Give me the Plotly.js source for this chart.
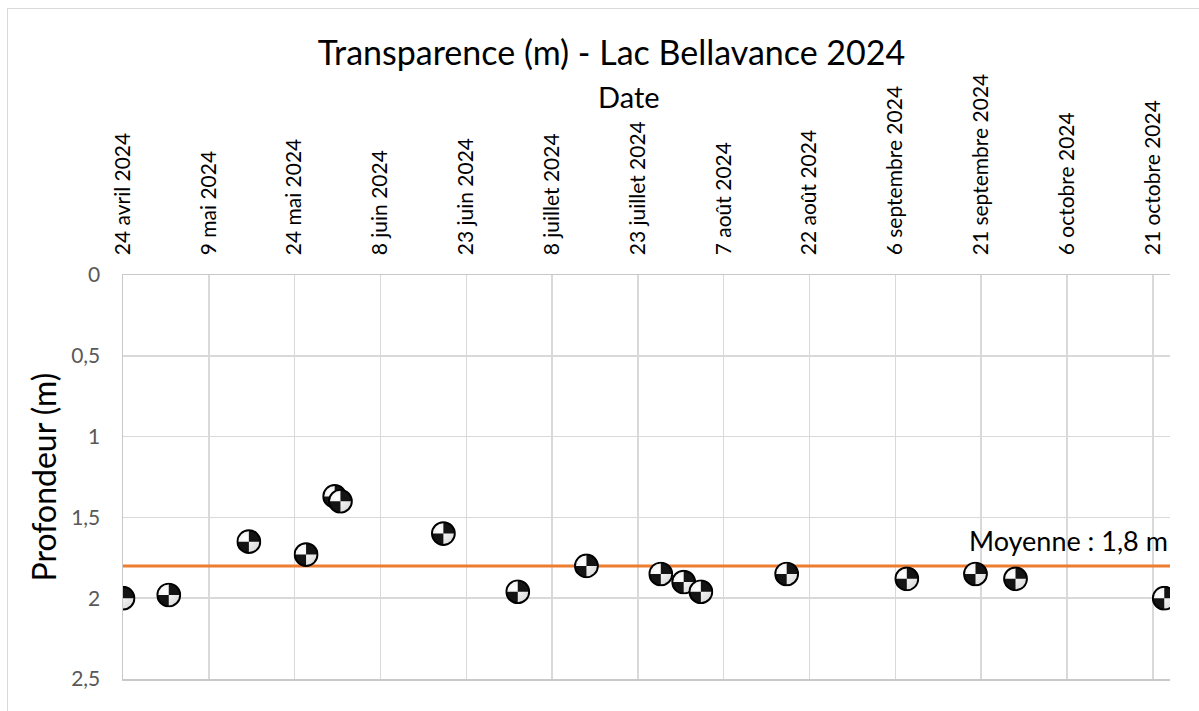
<!DOCTYPE html>
<html>
<head>
<meta charset="utf-8">
<script src="https://cdn.plot.ly/plotly-3.0.1.min.js"></script>
<style>
  html, body { margin: 0; padding: 0; background: #fff; overflow: hidden; }
  #frame { position: absolute; left: 7px; top: 8px; width: 1300px; height: 800px; border: 1.5px solid #d9d9d9; box-sizing: border-box; }
  #chart { position: absolute; left: 0; top: 0; width: 1199px; height: 711px; }
</style>
</head>
<body>
<div id="frame"></div>
<div id="chart"></div>
<script>
// ---- data ----
const sampleDates = ['2024-04-24','2024-05-02','2024-05-16','2024-05-26','2024-05-31','2024-06-01',
  '2024-06-19','2024-07-02','2024-07-14','2024-07-27','2024-07-31','2024-08-03','2024-08-18',
  '2024-09-08','2024-09-20','2024-09-27','2024-10-23'];
const depths = [2.00, 1.98, 1.65, 1.73, 1.37, 1.40, 1.60, 1.96, 1.80, 1.85, 1.90, 1.96, 1.85, 1.88, 1.85, 1.88, 2.00];
const meanDates = ['2024-04-24', '2024-10-24'];
const meanDepth = [1.8, 1.8];
const meanLabel = 'Moyenne : 1,8 m';
const tickDates = ['2024-04-24','2024-05-09','2024-05-24','2024-06-08','2024-06-23','2024-07-08',
  '2024-07-23','2024-08-07','2024-08-22','2024-09-06','2024-09-21','2024-10-06','2024-10-21'];
const tickLabels = ['24 avril 2024','9 mai 2024','24 mai 2024','8 juin 2024','23 juin 2024','8 juillet 2024',
  '23 juillet 2024','7 août 2024','22 août 2024','6 septembre 2024','21 septembre 2024','6 octobre 2024','21 octobre 2024'];
const depthTicks = [0, 0.5, 1, 1.5, 2, 2.5];

// ---- Secchi disk icon ----
const disk = '<svg xmlns="http://www.w3.org/2000/svg" viewBox="0 0 26 26">' +
  '<defs><radialGradient id="g" cx="0.35" cy="0.35" r="0.8"><stop offset="0" stop-color="#ffffff"/><stop offset="1" stop-color="#d8d8d8"/></radialGradient></defs>' +
  '<circle cx="13" cy="13" r="11.8" fill="url(#g)"/>' +
  '<path d="M13 13 L13 1.2 A11.8 11.8 0 0 1 24.8 13 Z" fill="#141414"/>' +
  '<path d="M13 13 L13 24.8 A11.8 11.8 0 0 1 1.2 13 Z" fill="#141414"/>' +
  '<circle cx="13" cy="13" r="11.8" fill="none" stroke="#000" stroke-width="2"/></svg>';
const diskSrc = 'data:image/svg+xml;charset=utf-8,' + encodeURIComponent(disk);
const DAY = 86400000;

const font = 'Lato, "Open Sans", sans-serif';

const traces = [
  { x: meanDates, y: meanDepth, type: 'scatter', mode: 'lines', name: 'Moyenne',
    line: { color: '#ED7D31', width: 3 }, hoverinfo: 'skip' },
  { x: sampleDates, y: depths, type: 'scatter', mode: 'markers', name: 'Transparence',
    marker: { symbol: 'circle', size: 23, color: 'rgba(255,255,255,0)', line: { width: 0 } } }
];

const images = sampleDates.map((d, i) => ({
  source: diskSrc, xref: 'x', yref: 'y', x: d, y: depths[i],
  sizex: 4.4 * DAY, sizey: 0.155, xanchor: 'center', yanchor: 'middle',
  sizing: 'stretch', layer: 'above'
}));

const layout = {
  width: 1199, height: 711,
  paper_bgcolor: 'rgba(0,0,0,0)', plot_bgcolor: '#fff',
  margin: { l: 123, r: 29, t: 275, b: 32 },
  showlegend: false,
  separators: ', ',
  font: { family: font, color: '#000' },
  title: { text: 'Transparence (m) - Lac Bellavance 2024', font: { family: font, size: 34, color: '#000' },
    xref: 'container', x: 0.51, xanchor: 'center', yref: 'container', y: 1 - 53/711, yanchor: 'middle' },
  xaxis: {
    type: 'date', side: 'top', range: ['2024-04-24', '2024-10-24'],
    tickmode: 'array', tickvals: tickDates, ticktext: tickLabels, tickangle: -90,
    tickfont: { family: font, size: 21, color: '#000' }, ticks: '', ticklabelstandoff: 14,
    showgrid: true, gridcolor: '#d9d9d9', gridwidth: 1.5,
    showline: true, mirror: true, linecolor: '#c8c8c8', linewidth: 1.5, zeroline: false, automargin: false
  },
  yaxis: {
    range: [2.5, 0], tickmode: 'array', tickvals: depthTicks,
    tickfont: { family: font, size: 21, color: '#595959' }, ticks: '', ticklabelstandoff: 17,
    showgrid: true, gridcolor: '#d9d9d9', gridwidth: 1.5,
    showline: true, linecolor: '#c8c8c8', linewidth: 1.5, zeroline: false, automargin: false,
    title: { text: 'Profondeur (m)', font: { family: font, size: 32, color: '#000' }, standoff: 5 }
  },
  images: images,
  annotations: [
    { text: 'Date', xref: 'paper', yref: 'paper', x: (629 - 123) / 1047, y: (679 - 96) / 404,
      xanchor: 'center', yanchor: 'middle', showarrow: false, font: { family: font, size: 29, color: '#000' } },
    { text: meanLabel, xref: 'paper', yref: 'y', x: 1, y: meanDepth[1], xanchor: 'right', yanchor: 'bottom',
      yshift: 7, showarrow: false, font: { family: font, size: 27, color: '#000' } }
  ]
};

Plotly.newPlot('chart', traces, layout, { staticPlot: true, displayModeBar: false });
</script>
</body>
</html>
